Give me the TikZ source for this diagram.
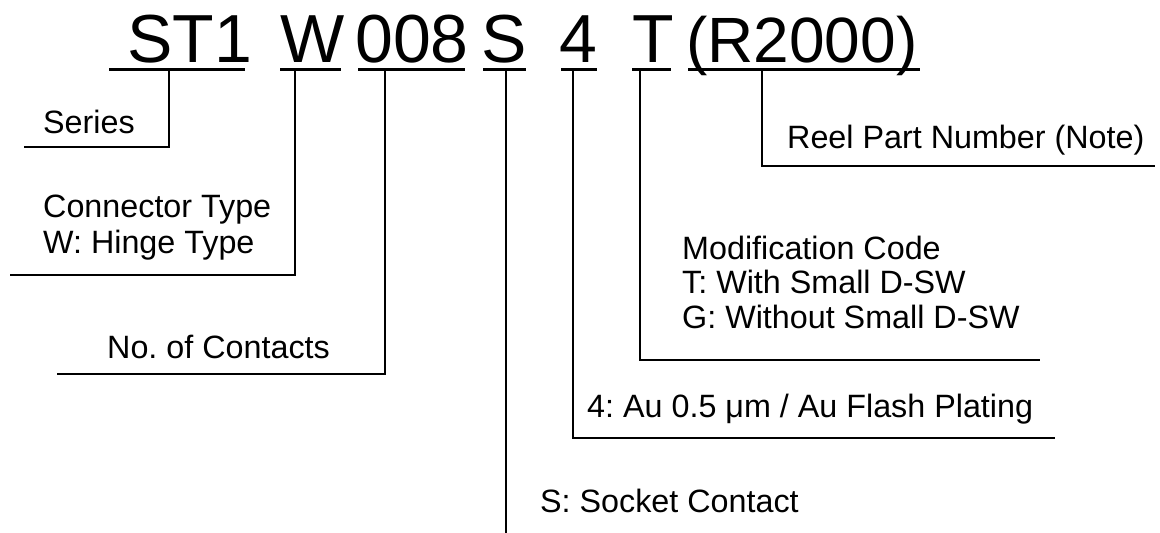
\documentclass[tikz,border=0pt]{standalone}
\usepackage{fontspec}
\setmainfont{Liberation Sans}
\frenchspacing
\begin{document}
\begin{tikzpicture}[x=1pt,y=-1pt,
  big/.style={font=\fontsize{68}{80}\selectfont, inner sep=0pt, anchor=base west},
  lbl/.style={font=\fontsize{32.3}{36}\selectfont, inner sep=0pt, anchor=base west, align=left},
  uline/.style={line width=3.2pt},
  lead/.style={line width=1.5pt}]
\useasboundingbox (0,0) rectangle (1160,533);
% title parts
\node[big] (tST) at (127,62.5) {ST1};
\node[big] (tW) at (280,62.5) {W};
\node[big] (t008) at (355,62.5) {008};
\node[big] (tS) at (481,62.5) {S};
\node[big] (t4) at (559,62.5) {4};
\node[big] (tT) at (632,62.5) {T};
\node[big, font=\fontsize{64}{76}\selectfont] (tR) at (686,62.5) {(R2000)};
% underlines
\draw[uline] (109,69.5) -- (245,69.5);
\draw[uline] (280,69.5) -- (341,69.5);
\draw[uline] (358,69.5) -- (465,69.5);
\draw[uline] (483,69.5) -- (526,69.5);
\draw[uline] (561,69.5) -- (597,69.5);
\draw[uline] (632,69.5) -- (671,69.5);
\draw[uline] (688,69.5) -- (920,69.5);
% underline tap points
\coordinate (uST) at (169,71);
\coordinate (uW) at (295,71);
\coordinate (u008) at (385,71);
\coordinate (uS) at (506,71);
\coordinate (u4) at (573,71);
\coordinate (uT) at (640,71);
\coordinate (uR) at (762,71);
% labels
\node[lbl] (lSeries) at (43,133) {Series};
\node[lbl] (lConn) at (43,217) {Connector Type};
\node[lbl] (lHinge) at (43,253) {W: Hinge Type};
\node[lbl] (lNo) at (107,358) {No. of Contacts};
\node[lbl] (lSock) at (540,512) {S: Socket Contact};
\node[lbl] (lAu) at (587,417) {4: Au 0.5 μm / Au Flash Plating};
\node[lbl] (lMod) at (682,259) {Modification Code};
\node[lbl] (lWith) at (682,293.5) {T: With Small D-SW};
\node[lbl] (lWithout) at (682,328) {G: Without Small D-SW};
\node[lbl] (lReel) at (787,148) {Reel Part Number (Note)};
% leader end coordinates
\coordinate (eST) at (24,147);
\coordinate (eW) at (10,275);
\coordinate (e008) at (57,374);
\coordinate (eS) at (506,533);
\coordinate (e4) at (1055,438);
\coordinate (eT) at (1040,360);
\coordinate (eR) at (1155,166);
% leaders
\draw[lead] (uST) |- (eST);
\draw[lead] (uW) |- (eW);
\draw[lead] (u008) |- (e008);
\draw[lead] (uS) -- (eS);
\draw[lead] (u4) |- (e4);
\draw[lead] (uT) |- (eT);
\draw[lead] (uR) |- (eR);
\end{tikzpicture}
\end{document}
